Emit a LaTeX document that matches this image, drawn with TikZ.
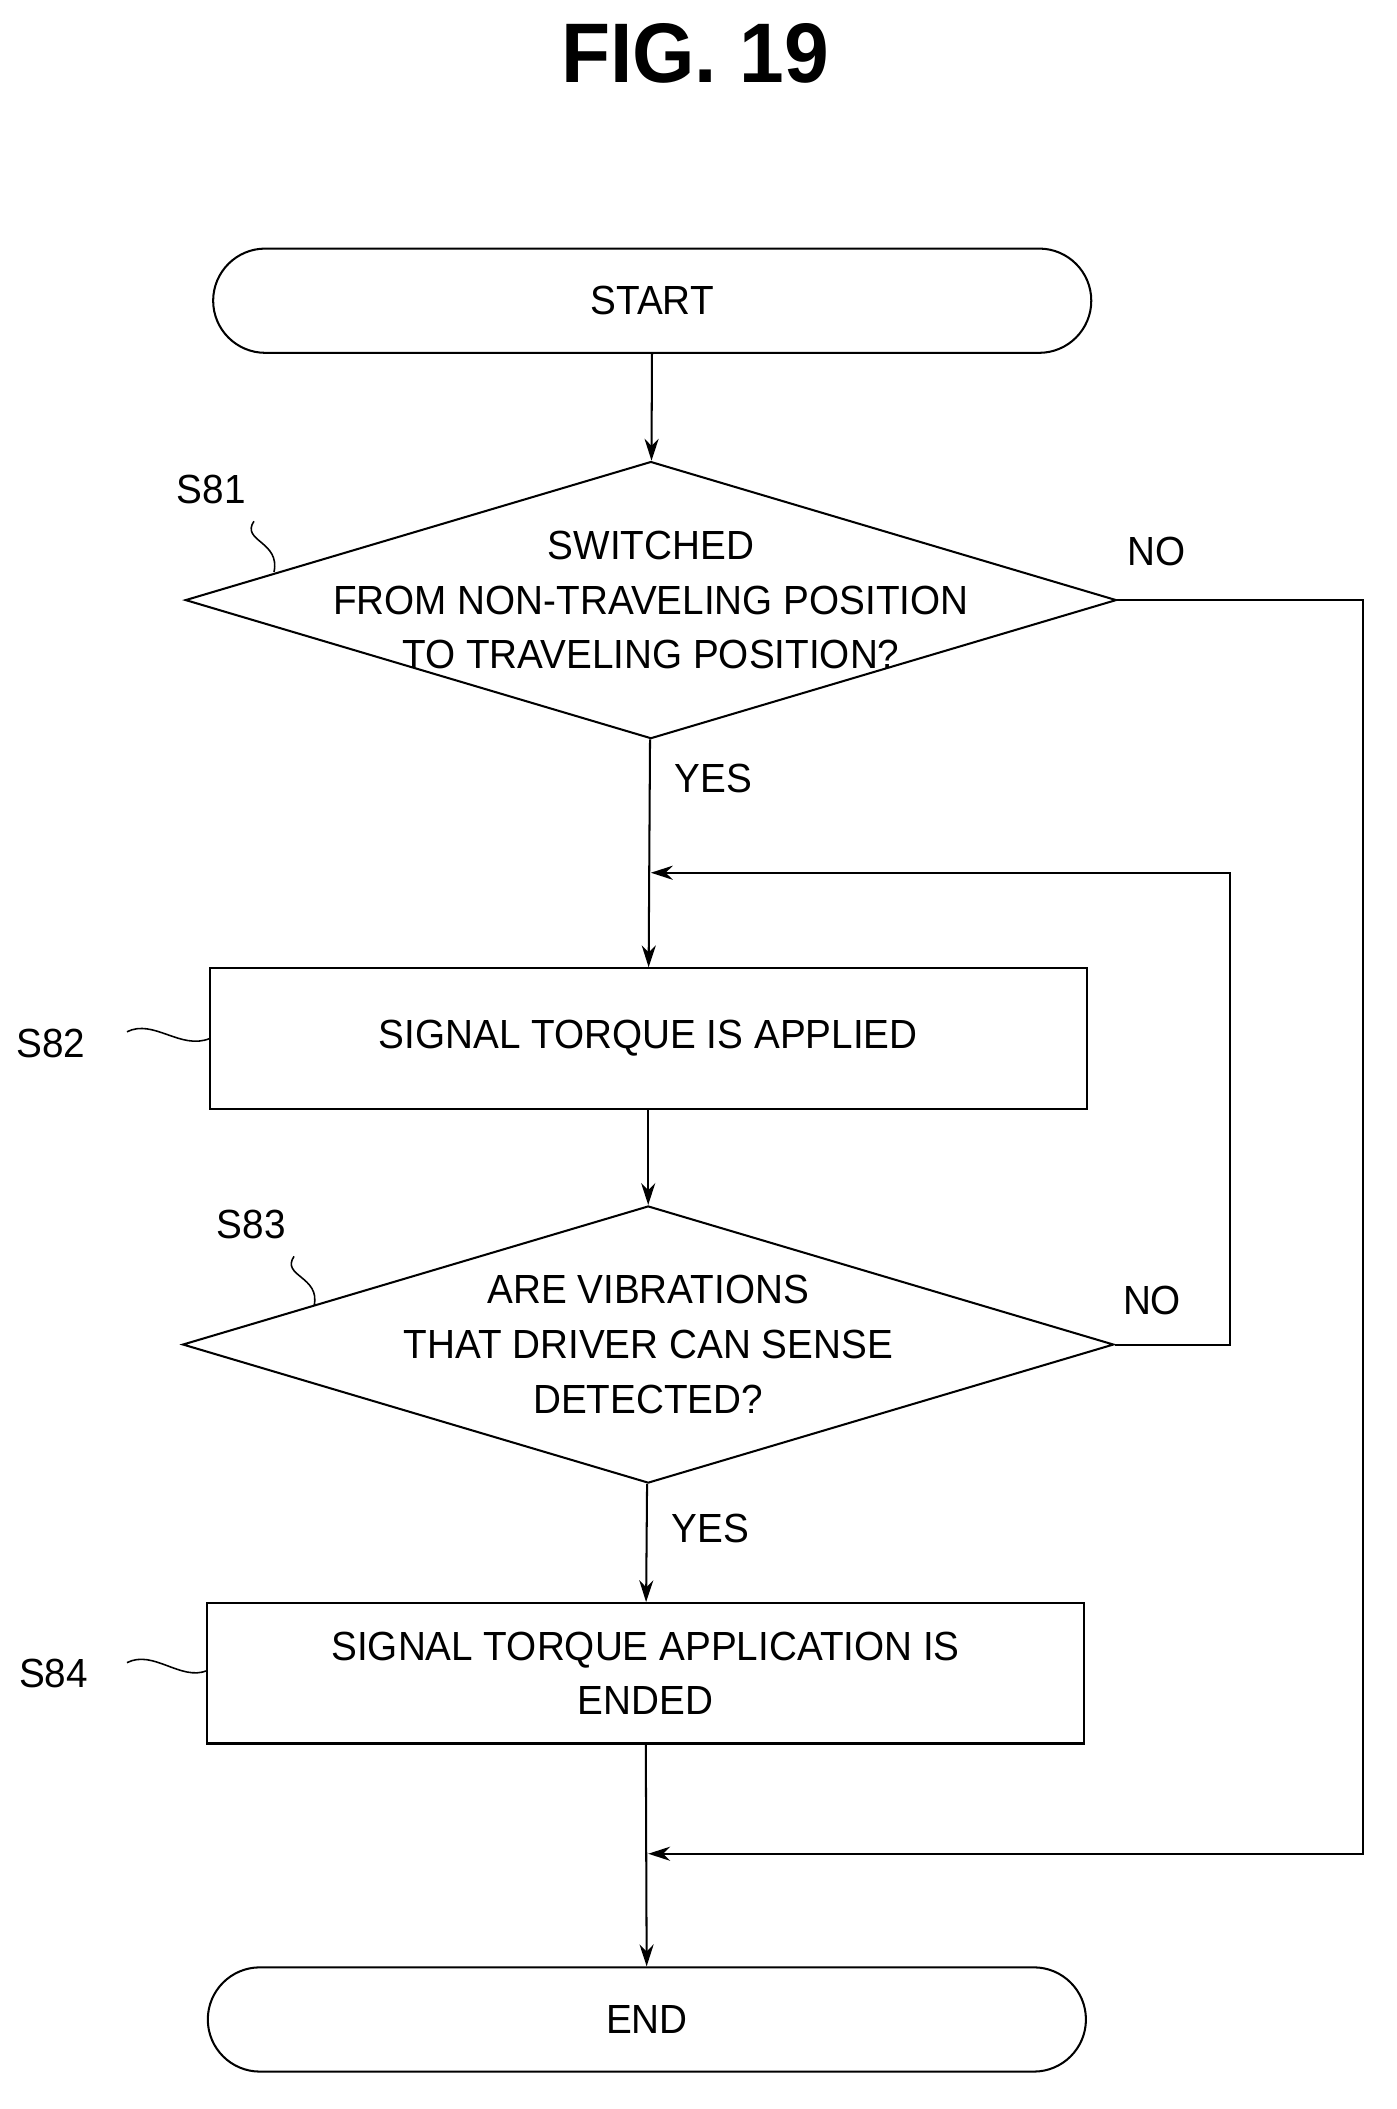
\documentclass[tikz,border=0pt]{standalone}
\usepackage{fontspec}
\setmainfont{Liberation Sans}[FakeStretch=0.95]
\usetikzlibrary{shapes.geometric}
\usetikzlibrary{arrows.meta}

\tikzset{
	flow/.style={draw, line width=1.3pt, align=center, inner sep=0pt,
		font=\fontsize{26}{35}\selectfont},
	term/.style={flow, rounded corners=1.17cm, minimum width=19.71cm, minimum height=2.34cm},
	proc/.style={flow, minimum width=19.68cm, minimum height=3.15cm},
	dec/.style={flow, diamond, shape aspect=3.36, inner xsep=-1.6cm, inner ysep=-0.6cm,
		minimum width=20.9cm, minimum height=6.22cm},
	lab/.style={font=\fontsize{26}{30}\selectfont},
	line/.style={line width=1.3pt},
	arr/.style={line, -{Stealth[length=14pt,width=9pt]}}
}

\begin{document}
\begin{tikzpicture}[x=0.03cm, y=-0.03cm]
	\useasboundingbox (0,0) rectangle (1045,1578);
	\node[font=\fontsize{54}{60}\selectfont\bfseries] (title) at (520,40) {FIG. 19};
	\node[term] (start) at (488,225) {START};
	\node[dec] (s81) at (487,449) {SWITCHED\\FROM NON-TRAVELING POSITION\\TO TRAVELING POSITION?};
	\node[proc] (s82) at (485,777) {SIGNAL TORQUE IS APPLIED};
	\node[dec] (s83) at (485,1006) {ARE VIBRATIONS\\THAT DRIVER CAN SENSE\\DETECTED?};
	\node[proc] (s84) at (483,1252) {SIGNAL TORQUE APPLICATION IS\\ENDED};
	\node[term] (end) at (484,1511) {END};
	% join points
	\coordinate (j1) at (487,653);
	\coordinate (j2) at (485,1387);
	\draw[arr] (start) -- (s81);
	\draw[arr] (s81) -- (s82) node[pos=0.17, right=12pt, lab] {YES};
	\draw[arr] (s82) -- (s83);
	\draw[arr] (s83) -- (s84) node[pos=0.38, right=12pt, lab] {YES};
	\draw[arr] (s84) -- (end);
	\draw[arr] (s81.east) -- (1020,449) |- (j2);
	\draw[arr] (s83.east) -- (920,1006) |- (j1);
	\node[lab] (no1) at (865,413) {NO};
	\node[lab] (no2) at (862,973) {NO};
	% step labels
	\node[lab] (l81) at (158,366) {S81};
	\node[lab] (l82) at (38,781) {S82};
	\node[lab] (l83) at (188,916) {S83};
	\node[lab] (l84) at (40,1252) {S84};
	\draw[line width=1pt] (190,390) .. controls (180,405) and (210,405) .. (205,428);
	\draw[line width=1pt] (220,940) .. controls (210,955) and (240,955) .. (235,977);
	\draw[line width=1pt] (95,772) .. controls (115,762) and (135,786) .. (157,777);
	\draw[line width=1pt] (95,1244) .. controls (115,1234) and (135,1258) .. (155,1250);
\end{tikzpicture}
\end{document}
